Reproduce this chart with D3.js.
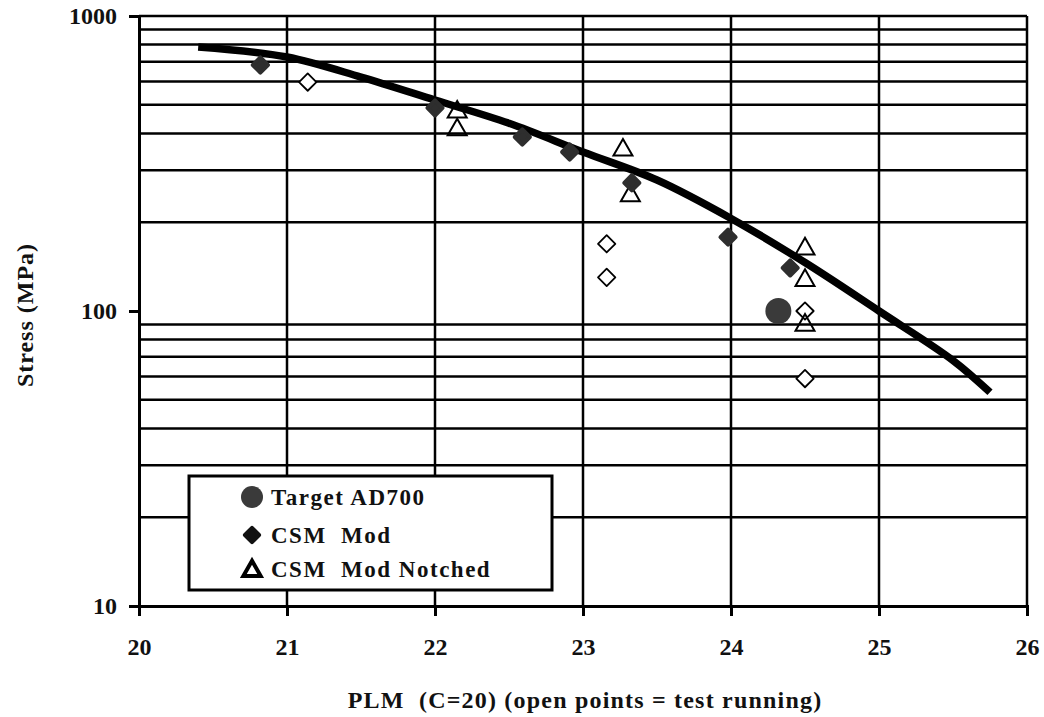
<!DOCTYPE html>
<html>
<head>
<meta charset="UTF-8">
<title>Stress vs PLM</title>
<script src="https://d3js.org/d3.v7.min.js"></script>
<style>
  body, html { margin: 0; background: #fff; }
  svg text { font-family: "Liberation Serif", "Times New Roman", serif; font-weight: bold; fill: #111; white-space: pre; }
</style>
</head>
<body>
<div id="chart"></div>
<script>
// master curve
const curvePLM = [20.4, 21, 21.5, 22, 22.5, 23, 23.5, 24, 24.5, 25, 25.5, 25.75];
const curveStress = [785, 726, 621, 519, 433, 346, 278, 206, 146, 100, 68, 53];

// Target AD700
const targetPLM = [24.32];
const targetStress = [100];

// CSM Mod (filled)
const csmPLM = [20.82, 22.0, 22.59, 22.91, 23.33, 23.98, 24.40];
const csmStress = [682, 488, 389, 346, 272, 178, 140];

// CSM Mod Notched (triangles)
const notchedPLM = [22.15, 22.15, 23.27, 23.32, 24.5, 24.5, 24.5];
const notchedStress = [480, 418, 357, 250, 165, 129, 91];

// open points = test running
const runningPLM = [21.14, 23.16, 23.16, 24.5, 24.5];
const runningStress = [597, 169, 130, 100, 59];

const xTicks = [20, 21, 22, 23, 24, 25, 26];
const yTicks = [10, 100, 1000];
const yGrid = [20, 30, 40, 50, 60, 70, 80, 90, 200, 300, 400, 500, 600, 700, 800, 900, 1000];
const legendLabels = ["Target AD700", "CSM  Mod", "CSM  Mod Notched"];

const width = 1044, height = 717;
const svg = d3.select("#chart").append("svg")
    .attr("width", width)
    .attr("height", height);

const x = d3.scaleLinear().domain([20, 26]).range([139, 1027]);
const y = d3.scaleLog().domain([10, 1000]).range([606, 16]);

// gridlines
svg.append("g").selectAll("line").data(yGrid).join("line")
    .attr("x1", x(20)).attr("x2", x(26))
    .attr("y1", d => y(d)).attr("y2", d => y(d))
    .attr("stroke", "#000").attr("stroke-width", 2.5);
svg.append("g").selectAll("line").data(xTicks.slice(1)).join("line")
    .attr("x1", d => x(d)).attr("x2", d => x(d))
    .attr("y1", y(10)).attr("y2", y(1000))
    .attr("stroke", "#000").attr("stroke-width", 2.5);

// axes
const xAxis = svg.append("g")
    .attr("transform", "translate(0," + y(10) + ")")
    .call(d3.axisBottom(x).tickValues(xTicks).tickSize(10).tickPadding(22).tickFormat(d3.format("d")));
const yAxis = svg.append("g")
    .attr("transform", "translate(" + x(20) + ",0)")
    .call(d3.axisLeft(y).tickValues(yTicks).tickSize(10).tickPadding(12).tickFormat(d3.format("d")));
[xAxis, yAxis].forEach(a => {
    a.select(".domain").attr("stroke", "#000").attr("stroke-width", 3);
    a.selectAll(".tick line").attr("stroke", "#000").attr("stroke-width", 3);
    a.selectAll("text").attr("font-size", 24).attr("font-family", null).attr("fill", "#111");
});

// master curve
const line = d3.line()
    .x(d => x(d[0]))
    .y(d => y(d[1]))
    .curve(d3.curveCatmullRom.alpha(0.5));
svg.append("path")
    .datum(d3.zip(curvePLM, curveStress))
    .attr("d", line)
    .attr("fill", "none")
    .attr("stroke", "#000")
    .attr("stroke-width", 7.5);

// marker shapes
const rDiamond = {
    draw(ctx, size) {
        const r = Math.sqrt(size) / 2;
        ctx.moveTo(0, -r); ctx.lineTo(r, 0); ctx.lineTo(0, r); ctx.lineTo(-r, 0); ctx.closePath();
    }
};
const tri = {
    draw(ctx, size) {
        const w = Math.sqrt(size) / 2;
        ctx.moveTo(0, -w * 0.95); ctx.lineTo(w, w * 0.8); ctx.lineTo(-w, w * 0.8); ctx.closePath();
    }
};

// running (open diamonds)
svg.append("g").selectAll("path").data(d3.zip(runningPLM, runningStress)).join("path")
    .attr("transform", d => "translate(" + x(d[0]) + "," + y(d[1]) + ")")
    .attr("d", d3.symbol(rDiamond, 300))
    .attr("fill", "#fff").attr("stroke", "#000").attr("stroke-width", 1.8)
    .attr("stroke-linejoin", "round");

// notched (open triangles)
svg.append("g").selectAll("path").data(d3.zip(notchedPLM, notchedStress)).join("path")
    .attr("transform", d => "translate(" + x(d[0]) + "," + y(d[1]) + ")")
    .attr("d", d3.symbol(tri, 360))
    .attr("fill", "none").attr("stroke", "#000").attr("stroke-width", 2);

// CSM Mod (filled)
svg.append("g").selectAll("path").data(d3.zip(csmPLM, csmStress)).join("path")
    .attr("transform", d => "translate(" + x(d[0]) + "," + y(d[1]) + ")")
    .attr("d", d3.symbol(rDiamond, 230))
    .attr("fill", "#2e2e2e").attr("stroke", "#2e2e2e").attr("stroke-width", 4)
    .attr("stroke-linejoin", "round");

// Target AD700
svg.append("g").selectAll("circle").data(d3.zip(targetPLM, targetStress)).join("circle")
    .attr("cx", d => x(d[0])).attr("cy", d => y(d[1]))
    .attr("r", 13).attr("fill", "#3a3a3a");

// axis titles
svg.append("text")
    .attr("x", 585).attr("y", 708)
    .attr("text-anchor", "middle")
    .attr("font-size", 24)
    .attr("letter-spacing", 1.2)
    .text("PLM  (C=20) (open points = test running)");
svg.append("text")
    .attr("transform", "translate(33,315) rotate(-90)")
    .attr("text-anchor", "middle")
    .attr("font-size", 24)
    .attr("letter-spacing", 1)
    .text("Stress (MPa)");

// legend
const lg = svg.append("g").attr("transform", "translate(189,476)");
lg.append("rect")
    .attr("width", 363).attr("height", 114)
    .attr("fill", "#fff").attr("stroke", "#000").attr("stroke-width", 3);
const rowY = [21, 59, 93];
lg.append("circle").attr("cx", 63).attr("cy", rowY[0]).attr("r", 11).attr("fill", "#3a3a3a");
lg.append("path").attr("transform", "translate(63," + rowY[1] + ")")
    .attr("d", d3.symbol(rDiamond, 200))
    .attr("fill", "#111").attr("stroke", "#111").attr("stroke-width", 4).attr("stroke-linejoin", "round");
lg.append("path").attr("transform", "translate(63," + rowY[2] + ")")
    .attr("d", d3.symbol(tri, 300))
    .attr("fill", "none").attr("stroke", "#000").attr("stroke-width", 4);
lg.selectAll("text.lab").data(legendLabels).join("text")
    .attr("class", "lab")
    .attr("x", 82).attr("y", (d, i) => rowY[i] + 8)
    .attr("font-size", 23)
    .attr("letter-spacing", 1.5)
    .text(d => d);
</script>
</body>
</html>
